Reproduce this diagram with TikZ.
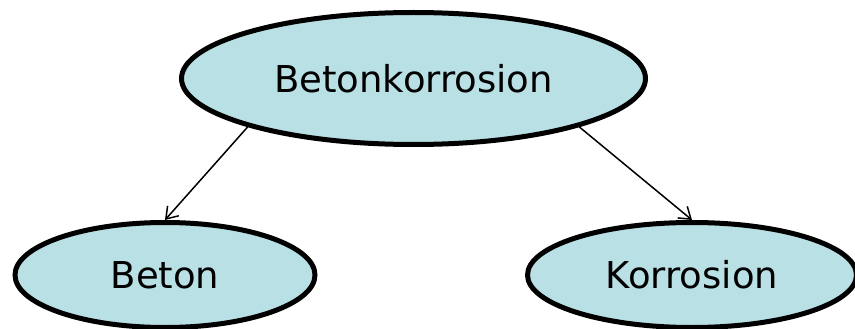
\documentclass[tikz,border=0pt]{standalone}
\usepackage{fontspec}
\setmainfont{DejaVu Sans}
\usetikzlibrary{shapes.geometric,arrows.meta}
\definecolor{ellfill}{RGB}{185,224,228}
\begin{document}
\begin{tikzpicture}[x=1pt,y=-1pt,
  oval/.style={ellipse,draw=black,fill=ellfill,line width=5pt,inner sep=0pt,font=\fontsize{37}{44}\selectfont},
  link/.style={line width=1.5pt,-{Straight Barb[length=11pt,width=15pt,line width=1.5pt]}}]
\useasboundingbox (0,0) rectangle (855,329);
\node[oval,minimum width=464pt,minimum height=132pt] (top) at (413.5,78.5) {Betonkorrosion};
\node[oval,minimum width=300pt,minimum height=105pt] (left) at (165,275) {\raisebox{-1.5pt}{Beton}};
\node[oval,minimum width=329pt,minimum height=105pt] (right) at (692,275) {\raisebox{-1.5pt}{Korrosion}};
\draw[link] (top.south west) -- (left.north);
\draw[link] (top.south east) -- (right.north);
\end{tikzpicture}
\end{document}
